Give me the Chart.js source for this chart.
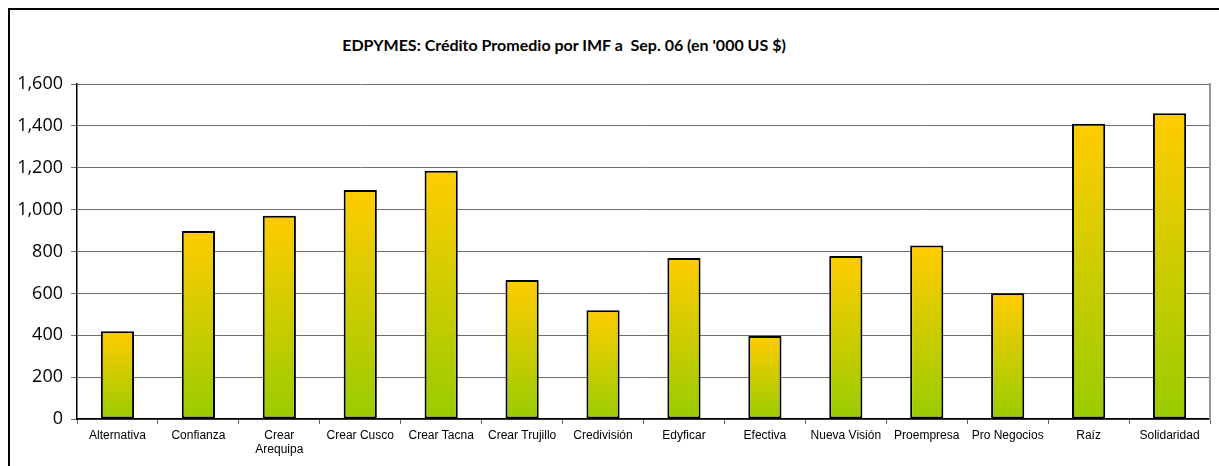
<!DOCTYPE html>
<html>
<head>
<meta charset="utf-8">
<script src="https://cdn.jsdelivr.net/npm/chart.js@4.4.1/dist/chart.umd.min.js"></script>
<style>
    html, body { margin: 0; padding: 0; background: #fff; }
    #wrap { position: relative; width: 1219px; height: 466px; overflow: hidden; }
    #frame {
        position: absolute; left: 8px; top: 8px; width: 1300px; height: 600px;
        border-left: 2px solid #000; border-top: 2px solid #000;
    }
    #title {
        position: absolute; left: 564px; top: 35px; transform: translateX(-50%);
        font: bold 16px Lato, 'Open Sans', sans-serif;
        white-space: pre; color: #000;
    }
    #box { position: absolute; left: 0; top: 0; width: 1219px; height: 466px; }
</style>
</head>
<body>
<div id="wrap">
    <div id="frame"></div>
    <div id="title">EDPYMES: Crédito Promedio por IMF a  Sep. 06 (en '000 US $)</div>
    <div id="box"><canvas id="chart"></canvas></div>
</div>
<script>
// categories and values ('000 US $)
const imfLabels = [
    'Alternativa', 'Confianza', ['Crear', 'Arequipa'], 'Crear Cusco', 'Crear Tacna',
    'Crear Trujillo', 'Credivisión', 'Edyficar', 'Efectiva', 'Nueva Visión',
    'Proempresa', 'Pro Negocios', 'Raíz', 'Solidaridad'
];
const creditoPromedio = [419, 898, 971, 1094, 1186, 664, 520, 769, 397, 778, 829, 601, 1410, 1460];
const yTicks = [0, 200, 400, 600, 800, 1000, 1200, 1400, 1600];

/**
 * Per-bar vertical gradient: yellow at top, green at the base
 */
function barGradient(context) {
    const chart = context.chart;
    if (!chart.chartArea || context.raw === undefined) return '#FFCC00';
    const y = chart.scales.y;
    const top = y.getPixelForValue(context.raw);
    const base = y.getPixelForValue(0);
    const g = chart.ctx.createLinearGradient(0, top, 0, base);
    g.addColorStop(0, '#FFCC00');
    g.addColorStop(1, '#99CC00');
    return g;
}

const ctx = document.getElementById('chart');

new Chart(ctx, {
    type: 'bar',
    data: {
        labels: imfLabels,
        datasets: [{
            label: 'Crédito Promedio',
            data: creditoPromedio,
            backgroundColor: barGradient,
            borderColor: '#000',
            borderWidth: 2,
            borderSkipped: false,
            categoryPercentage: 1,
            barPercentage: 0.41
        }]
    },
    options: {
        responsive: true,
        maintainAspectRatio: false,
        animation: false,
        layout: { padding: { left: 0, right: 9, top: 84, bottom: 0 } },
        plugins: {
            legend: { display: false },
            tooltip: { enabled: false }
        },
        scales: {
            x: {
                offset: true,
                grid: {
                    offset: true,
                    drawOnChartArea: false,
                    drawTicks: true,
                    tickLength: 5,
                    color: '#666'
                },
                border: { color: '#000', width: 1.5 },
                ticks: {
                    color: '#000',
                    font: { family: "'Liberation Sans', Arial, sans-serif", size: 12 },
                    padding: 4,
                    maxRotation: 0,
                    autoSkip: false
                },
                afterFit: (scale) => { scale.height = 47; }
            },
            y: {
                min: 0,
                max: 1600,
                afterBuildTicks: (scale) => { scale.ticks = yTicks.map(v => ({ value: v })); },
                grid: {
                    color: '#6e6e6e',
                    lineWidth: 1,
                    tickLength: 6
                },
                border: { color: '#000', width: 1.5 },
                ticks: {
                    color: '#000',
                    font: { family: "'Open Sans', sans-serif", size: 18 },
                    padding: 8,
                    callback: (v) => v.toLocaleString('en-US')
                },
                afterFit: (scale) => { scale.width = 77; }
            },
            y2: {
                position: 'right',
                min: 0,
                max: 1600,
                grid: { drawOnChartArea: false, drawTicks: false },
                border: { color: '#999', width: 2 },
                ticks: { display: false },
                afterFit: (scale) => { scale.width = 0; }
            }
        }
    }
});
</script>
</body>
</html>
